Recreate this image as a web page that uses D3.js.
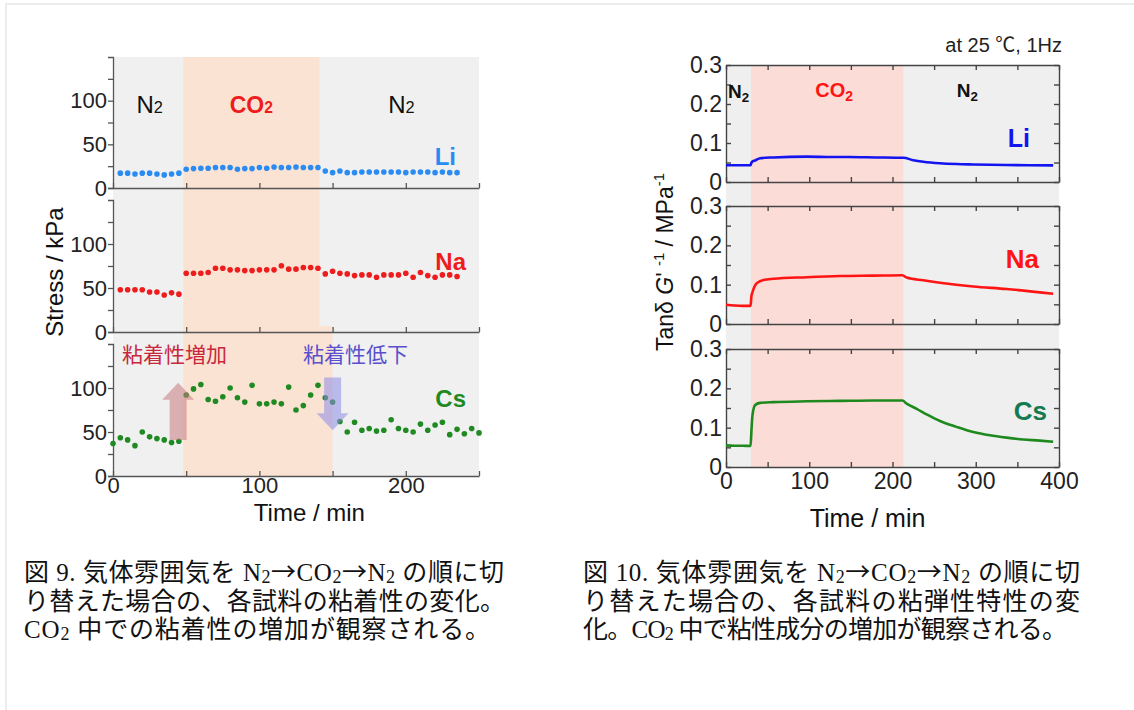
<!DOCTYPE html>
<html><head><meta charset="utf-8">
<script src="https://cdn.jsdelivr.net/npm/d3@7"></script>
<style>
body{margin:0;background:#fff}
svg{display:block}
text{font-family:"Liberation Sans",Arial,"Noto Sans CJK JP",sans-serif}
.cap{font-family:"Liberation Serif","Times New Roman","Noto Sans CJK JP",serif;font-size:25px;fill:#111}
</style>
</head><body>
<svg id="fig" width="1134" height="710"></svg>
<script>
// ---------- Fig. 9: adhesion stress (kPa), one reading every 5 min ----------
const timeLiNa = [5,10,15,20,25,30,35,40,45,
  50,55,60,65,70,75,80,85,90,95,100,105,110,115,120,125,130,135,140,
  145,150,155,160,165,170,175,180,185,190,195,200,205,210,215,220,225,230,235];
const stressLi = [17,17,16,17,17,16,15,16,17,
  21.5,22.2,22.6,22.6,23.4,23.4,23.4,21.5,22.2,22.2,23.4,22.6,24.1,23.4,23.4,24.1,23.4,23.4,23.4,
  19.5,17.6,19.5,17.6,17.6,18.4,18.4,18.4,18.4,18.4,18.4,17.6,18.4,18.4,18.4,17.6,18.4,17.6,17.6];
const stressNa = [48,48,48,48,45.5,45.5,42,44.5,43,
  66.8,66.8,66.8,67.6,72.5,72.5,70.6,70.6,69.8,69.8,70.6,70.6,70.6,75.2,71.4,71.4,73.3,73.3,72.5,
  66,69,66.8,66,64.1,64.9,64.9,62.2,64.9,64.9,64.9,66.8,62.2,67.6,64.1,62.2,64.9,64.9,63];
const timeCs = [0,5,10,15,20,25,30,35,40,45,
  50,55,60,65,70,75,80,85,90,95,100,105,110,115,120,125,130,135,140,145,150,
  155,160,165,170,175,180,185,190,195,200,205,210,215,220,225,230,235,240,245,250];
const stressCs = [37,43.5,41,34.5,50,44.5,42.5,41,38,39.5,
  92,99,104,87,85,90,100,89,84,103,82,82,84,82,101,75,80,92,103,89,84,
  62,50,61,52,54,51,52,64,54,52,50,59,52,58,61,47,53,48,54,49];
const stressTicks = [0,25,50,75,100,125];
const stressTickLabels = [0,50,100];
const timeTicks9 = [0,50,100,150,200,250];
const timeTickLabels9 = [0,100,200];
// gas switching times (min)
const co2Start9 = 48, co2End9 = 141, co2EndCs = 150;

// ---------- Fig. 10: tanδ/G' (MPa^-1) at 25 ℃, 1 Hz ----------
const timeLi10 = [0,10,20,29.5,30.5,32,35,41,57,97,127,147,180,213,225,237,257,277,297,337,393];
const tanLi    = [.043,.043,.043,.043,.049,.053,.055,.061,.063,.065,.064,.064,.063,.062,.056,.052,.048,.046,.045,.0436,.0427];
const timeNa10 = [0,10,20,29.5,30.5,32,34,37,45,57,97,137,177,212,217,237,257,297,337,393];
const tanNa    = [.049,.047,.046,.046,.07,.082,.094,.104,.112,.115,.119,.122,.123,.124,.118,.111,.105,.0955,.089,.077];
const timeCs10 = [0,10,20,29.5,30.5,31.5,32.7,34.8,40.8,57,97,137,177,212,217,229,241,257,277,297,317,337,357,377,393];
const tanCs    = [.055,.054,.054,.0534,.09,.125,.144,.157,.163,.165,.167,.168,.169,.169,.161,.148,.134,.117,.102,.089,.0805,.0746,.070,.067,.064];
const tanTicks = [0,.05,.1,.15,.2,.25,.3];
const tanTickLabels = [0,.1,.2,.3];
const timeTicks10 = [0,50,100,150,200,250,300,350,400];
const timeTickLabels10 = [0,100,200,300,400];
const co2Start10 = 30, co2End10 = 213;

const svg = d3.select("#fig");
svg.append("rect").attr("width",1134).attr("height",710).attr("fill","#fff");
// page frame
svg.append("line").attr("x1",5).attr("x2",1134).attr("y1",4).attr("y2",4).attr("stroke","#ececec").attr("stroke-width",2);
svg.append("line").attr("x1",6).attr("x2",6).attr("y1",4).attr("y2",710).attr("stroke","#ececec").attr("stroke-width",2);

// text built from pieces: [text, kind] with kind: undefined | "sub" | "sup" | "small" | "it" | "arrow"
function rich(sel, parts, opt={}) {
  parts.forEach(([t, k]) => {
    const ts = sel.append("tspan").text(t);
    if (k === "sub") ts.attr("font-size", opt.subSize || "70%").attr("baseline-shift", opt.subShift || "-0.25em");
    if (k === "small") ts.attr("font-size", opt.subSize || "68%");
    if (k === "sup") ts.attr("font-size", opt.supSize || "65%").attr("baseline-shift", opt.supShift || "0.6em");
    if (k === "it") ts.attr("font-style", "italic");
    if (k === "arrow") ts.attr("font-family", "Noto Sans CJK JP");
  });
  return sel;
}

// ================= Fig. 9 =================
const xL = d3.scaleLinear().domain([0,250]).range([113,479]);
const panels9 = [
  {name:"Li", x:timeLiNa, y:stressLi, color:"#2a8cf2", top:57, bottom:188},
  {name:"Na", x:timeLiNa, y:stressNa, color:"#ee1c1c", top:200, bottom:332},
  {name:"Cs", x:timeCs,   y:stressCs, color:"#1f8a22", top:344, bottom:476}
];
panels9.forEach(p => p.ys = d3.scaleLinear().domain([0,150]).range([p.bottom,p.top]));

const g9 = svg.append("g");
// atmosphere shading
g9.append("rect").attr("x",xL(0)).attr("y",57).attr("width",xL(250)-xL(0)).attr("height",476-57).attr("fill","#f0f0f0");
g9.append("rect").attr("x",xL(co2Start9)).attr("y",57).attr("width",xL(co2End9)-xL(co2Start9)).attr("height",332-57).attr("fill","#fbe3d3");
g9.append("rect").attr("x",xL(co2Start9)).attr("y",326).attr("width",xL(co2EndCs)-xL(co2Start9)).attr("height",476-326).attr("fill","#fbe3d3");

panels9.forEach((p, i) => {
  const ax = g9.append("g").attr("transform",`translate(${xL(0)},0)`)
    .call(d3.axisLeft(p.ys).tickValues(stressTicks).tickSize(5).tickPadding(1)
      .tickFormat(d => stressTickLabels.includes(d) ? d : ""));
  const bx = g9.append("g").attr("transform",`translate(0,${p.bottom})`)
    .call(d3.axisBottom(xL).tickValues(timeTicks9).tickSizeInner(-5).tickSizeOuter(0).tickPadding(1)
      .tickFormat(d => (i === 2 && timeTickLabels9.includes(d)) ? d : ""));
  [ax,bx].forEach(a => {
    a.selectAll("path,line").attr("stroke","#555").attr("stroke-width",1.3);
    a.selectAll("text").attr("font-size",22).attr("fill","#222").attr("font-family","Liberation Sans, Arial, sans-serif");
  });
  g9.append("g").selectAll("circle").data(p.x).join("circle")
    .attr("cx", d => xL(d)).attr("cy", (d,j) => p.ys(p.y[j])).attr("r",2.8).attr("fill",p.color);
});

// atmosphere labels
rich(g9.append("text").attr("x",xL(16)).attr("y",113).attr("font-size",24).attr("fill","#111"), [["N"],["2","small"]]);
rich(g9.append("text").attr("x",xL(94.5)).attr("y",113).attr("text-anchor","middle").attr("font-size",23).attr("font-weight","bold").attr("fill","#ee1c1c"), [["CO"],["2","small"]]);
rich(g9.append("text").attr("x",xL(188)).attr("y",113).attr("font-size",24).attr("fill","#111"), [["N"],["2","small"]]);
// sample labels
g9.append("text").attr("x",456).attr("y",165).attr("text-anchor","end").attr("font-size",24).attr("font-weight","bold").attr("fill","#2a8cf2").text("Li");
g9.append("text").attr("x",466).attr("y",270).attr("text-anchor","end").attr("font-size",24).attr("font-weight","bold").attr("fill","#ee1c1c").text("Na");
g9.append("text").attr("x",466).attr("y",407).attr("text-anchor","end").attr("font-size",24).attr("font-weight","bold").attr("fill","#1f8a22").text("Cs");

// change arrows in the Cs panel
const ysCs = panels9[2].ys;
function blockArrow(xc, yFrom, yTo, fill) {
  const x = xL(xc), y0 = ysCs(yFrom), y1 = ysCs(yTo);
  const dir = Math.sign(y1 - y0), shaft = 8.5, head = 16, headLen = 17;
  const yb = y1 - dir*headLen;
  const pts = [[x-shaft,y0],[x-shaft,yb],[x-head,yb],[x,y1],[x+head,yb],[x+shaft,yb],[x+shaft,y0]];
  g9.append("path").attr("d", d3.line()(pts)+"Z").attr("fill",fill).attr("opacity",0.55);
}
blockArrow(44.5, 41, 106, "#c87a80");
blockArrow(150, 112, 52, "#8c8ce8");
g9.append("text").attr("x",122).attr("y",362).attr("font-size",21).attr("fill","#c8283c").attr("font-family","Noto Sans CJK JP").text("粘着性増加");
g9.append("text").attr("x",303).attr("y",362).attr("font-size",21).attr("fill","#5a50cc").attr("font-family","Noto Sans CJK JP").text("粘着性低下");

// axis titles
g9.append("text").attr("transform","translate(63,272) rotate(-90)").attr("text-anchor","middle").attr("font-size",24).attr("fill","#111").text("Stress / kPa");
g9.append("text").attr("x",xL(100)+50).attr("y",521).attr("text-anchor","middle").attr("font-size",24).attr("fill","#111").text("Time / min");

// ================= Fig. 10 =================
const xR = d3.scaleLinear().domain([0,400]).range([726,1059]);
const panels10 = [
  {name:"Li", x:timeLi10, y:tanLi, color:"#1414f0", label:"#1414f0", top:65,  bottom:182, lx:1030, ly:147, fs:25},
  {name:"Na", x:timeNa10, y:tanNa, color:"#ff1414", label:"#ff1414", top:206, bottom:324, lx:1039, ly:268, fs:26},
  {name:"Cs", x:timeCs10, y:tanCs, color:"#1e8a1e", label:"#157a52", top:349, bottom:467, lx:1047, ly:420, fs:26}
];
const g10 = svg.append("g");
g10.append("rect").attr("x",xR(0)).attr("y",65).attr("width",xR(400)-xR(0)).attr("height",467-65).attr("fill","#efefef");
g10.append("rect").attr("x",xR(co2Start10)).attr("y",65).attr("width",xR(co2End10)-xR(co2Start10)).attr("height",467-65).attr("fill","#fcdcd7");

panels10.forEach((p, i) => {
  const ys = d3.scaleLinear().domain([0,0.3]).range([p.bottom,p.top]);
  const fmt = d => tanTickLabels.includes(d) ? (d === 0 ? "0" : d3.format(".1f")(d)) : "";
  const axes = [
    g10.append("g").attr("transform",`translate(${xR(0)},0)`)
      .call(d3.axisLeft(ys).tickValues(tanTicks).tickSizeInner(-5).tickSizeOuter(0).tickPadding(4).tickFormat(fmt)),
    g10.append("g").attr("transform",`translate(${xR(400)},0)`)
      .call(d3.axisRight(ys).tickValues(tanTicks).tickSizeInner(-5).tickSizeOuter(0).tickFormat("")),
    g10.append("g").attr("transform",`translate(0,${p.top})`)
      .call(d3.axisTop(xR).tickValues(timeTicks10).tickSizeInner(-5).tickSizeOuter(0).tickFormat("")),
    g10.append("g").attr("transform",`translate(0,${p.bottom})`)
      .call(d3.axisBottom(xR).tickValues(timeTicks10).tickSizeInner(-5).tickSizeOuter(0).tickPadding(6)
        .tickFormat(d => (i === 2 && timeTickLabels10.includes(d)) ? d : ""))
  ];
  axes.forEach(a => {
    a.selectAll("path,line").attr("stroke","#444").attr("stroke-width",1.4);
    a.selectAll("text").attr("font-size",23).attr("fill","#222").attr("font-family","Liberation Sans, Arial, sans-serif");
  });
  const line = d3.line().x((d,j) => xR(p.x[j])).y(d => ys(d)).curve(d3.curveMonotoneX);
  g10.append("path").attr("d", line(p.y)).attr("fill","none").attr("stroke",p.color).attr("stroke-width",2.6);
  g10.append("text").attr("x",p.lx).attr("y",p.ly).attr("text-anchor","end").attr("font-size",p.fs).attr("font-weight","bold").attr("fill",p.label).text(p.name);
});

rich(g10.append("text").attr("x",728).attr("y",98).attr("font-size",19).attr("font-weight","bold").attr("fill","#111"), [["N"],["2","sub"]], {subShift:"-0.3em"});
rich(g10.append("text").attr("x",xR(130)).attr("y",97).attr("text-anchor","middle").attr("font-size",20).attr("font-weight","bold").attr("fill","#ff1414"), [["CO"],["2","sub"]], {subShift:"-0.3em"});
rich(g10.append("text").attr("x",xR(290)).attr("y",97).attr("text-anchor","middle").attr("font-size",19).attr("font-weight","bold").attr("fill","#111"), [["N"],["2","sub"]], {subShift:"-0.3em"});
g10.append("text").attr("x",1062).attr("y",52).attr("text-anchor","end").attr("font-size",20).attr("fill","#222").text("at 25 ℃, 1Hz");

rich(g10.append("text").attr("transform","translate(673,262) rotate(-90)").attr("text-anchor","middle").attr("font-size",23).attr("fill","#111"),
  [["Tanδ "],["G","it"],["' "],["-1","sup"],[" / MPa"],["-1","sup"]]);
g10.append("text").attr("x",xR(200)-25).attr("y",527).attr("text-anchor","middle").attr("font-size",25).attr("fill","#111").text("Time / min");

// ================= captions =================
function caption(x, y, parts, len) {
  const t = svg.append("text").attr("class","cap").attr("x",x).attr("y",y);
  rich(t, parts, {subSize:"72%", subShift:"-0.12em"});
  if (len) t.attr("textLength", len).attr("lengthAdjust","spacing");
}
caption(24, 581, [["図 9. 気体雰囲気を N"],["2","sub"],["→","arrow"],["CO"],["2","sub"],["→","arrow"],["N"],["2","sub"],[" の順に切"]], 480);
caption(24, 610, [["り替えた場合の、各試料の粘着性の変化。"]], 481);
caption(24, 638, [["CO"],["2","sub"],[" 中での粘着性の増加が観察される。"]], 466);
caption(583, 581, [["図 10. 気体雰囲気を N"],["2","sub"],["→","arrow"],["CO"],["2","sub"],["→","arrow"],["N"],["2","sub"],[" の順に切"]], 497);
caption(583, 610, [["り替えた場合の、各試料の粘弾性特性の変"]], 497);
caption(583, 638, [["化。CO"],["2","sub"],[" 中で粘性成分の増加が観察される。"]], 484);
</script>
</body></html>
